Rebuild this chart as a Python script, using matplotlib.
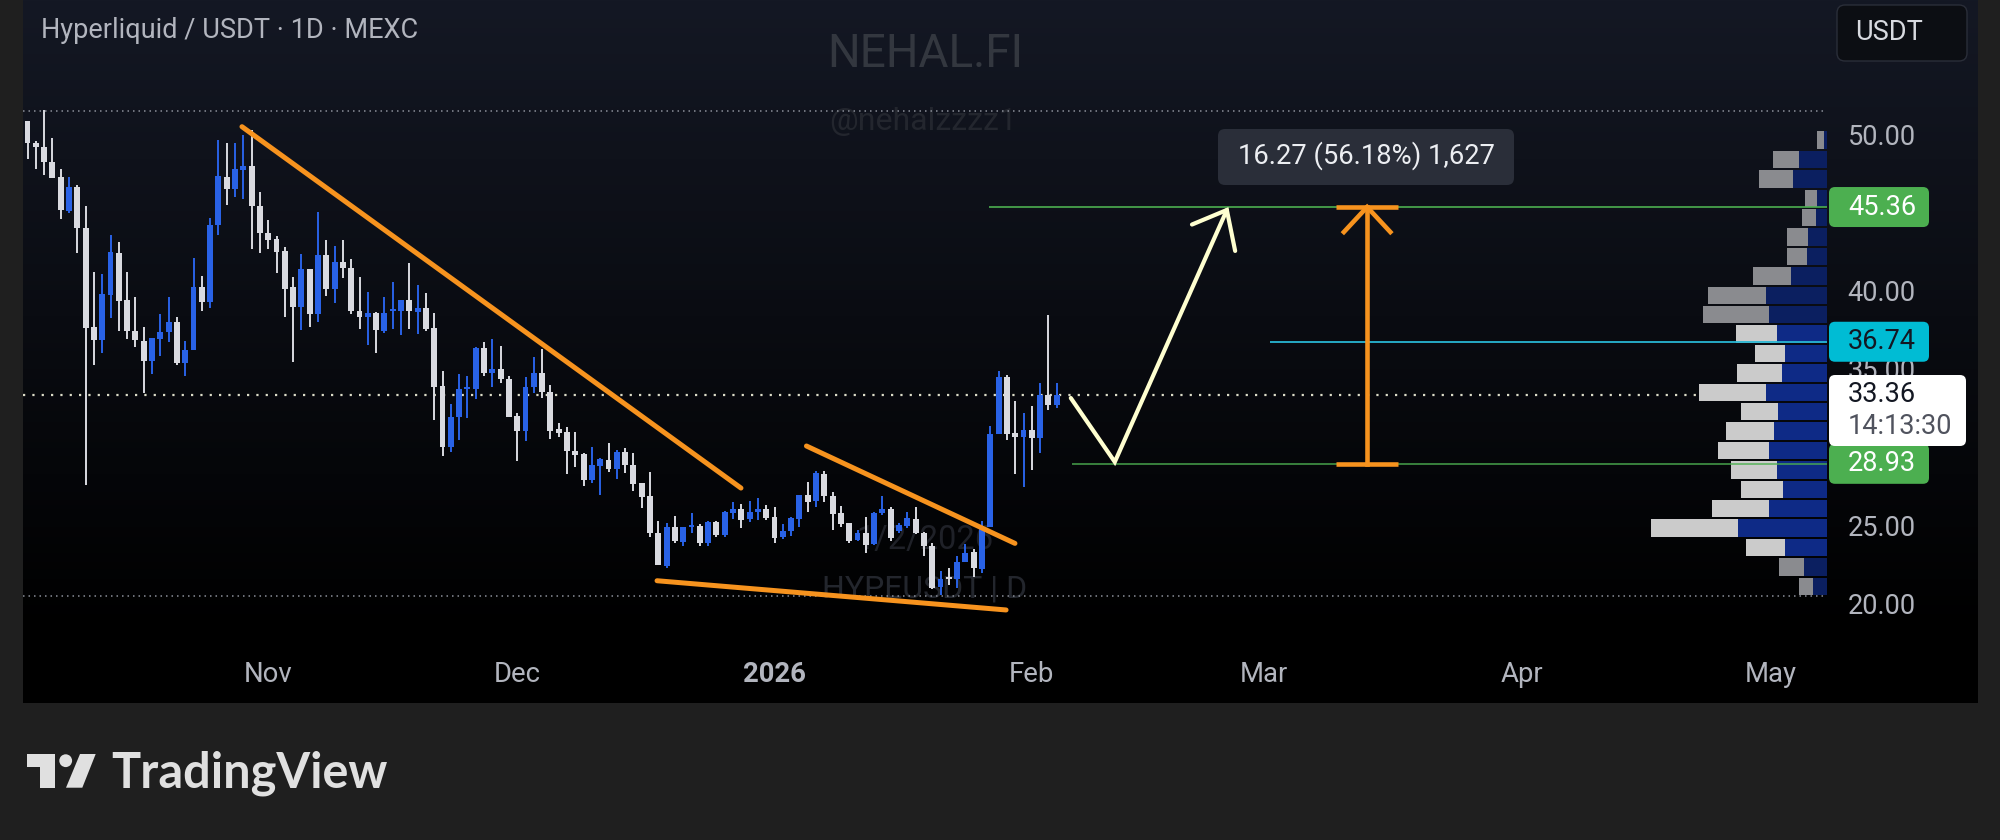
import numpy as np
import matplotlib
matplotlib.use("Agg")
import matplotlib.pyplot as plt
from matplotlib.patches import FancyBboxPatch, Polygon, Circle

plt.rcParams['font.family'] = ['Roboto', 'DejaVu Sans']

# ---------- data ----------
highs = [50.87,49.59,51.57,49.76,47.77,47.31,46.79,45.43,41.18,41.06,43.57,43.15,41.18,39.58,37.67,36.96,38.5,39.58,38.35,36.81,
         42.08,40.95,44.68,49.65,49.48,49.44,49.97,50.29,46.3,44.53,43.51,42.83,40.86,42.34,41.4,45.07,43.27,42.87,43.27,42.04,
         40.91,39.95,38.67,39.63,40.54,39.41,41.78,40.37,39.88,38.6,34.89,32.74,34.7,34.55,36.43,36.73,36.9,36.49,34.55,32.16,
         34.47,35.79,36.26,33.98,31.52,31.3,30.99,29.6,30.03,29.28,30.28,29.81,29.92,29.6,27.72,28.38,25.29,25.12,25.59,24.91,
         25.76,25.08,25.29,25.27,25.93,26.51,26.36,26.55,26.76,26.29,26.19,25.06,25.5,26.91,27.79,28.47,28.47,27.15,26.25,25.16,
         24.69,25.5,25.87,26.89,26.14,25.12,25.83,26.19,24.59,23.88,22.09,22.24,23.05,23.78,23.46,25.29,31.35,34.89,34.61,32.97,
         32.2,32.63,34.12,38.45,34.08]
body_tops = [50.87,49.48,49.22,48.27,47.26,46.62,46.67,44.0,37.71,39.78,42.46,42.44,39.41,37.45,36.79,36.96,37.39,37.99,37.99,36.22,
         40.25,40.27,44.23,47.33,47.31,47.77,47.99,47.99,45.45,43.68,43.3,42.53,40.22,41.4,41.4,42.27,42.27,41.85,41.85,41.48,
         38.73,38.56,38.6,38.6,38.82,39.41,39.41,38.88,38.88,37.62,33.91,31.95,33.74,33.83,36.34,36.32,34.98,34.98,34.36,32.0,
         33.87,34.72,34.72,33.55,31.14,30.99,29.77,29.56,28.85,29.22,29.17,29.71,29.66,28.85,27.72,26.89,24.52,24.91,24.87,24.91,
         25.0,24.97,25.21,25.19,25.85,26.02,26.02,25.85,26.02,26.02,25.5,24.65,25.44,26.91,26.91,28.32,28.28,26.89,25.76,25.12,
         24.48,24.52,25.8,26.02,26.02,25.01,25.44,25.42,24.52,23.67,21.54,21.67,22.67,23.2,23.27,24.91,30.84,34.5,34.46,30.88,
         31.09,31.09,33.33,33.33,33.36]
body_bottoms = [49.44,49.22,48.27,47.22,45.17,45.13,44.0,37.62,36.86,36.86,39.73,39.37,37.41,36.86,35.53,35.53,36.9,37.39,35.36,35.36,
         36.22,39.29,39.29,44.23,46.54,46.54,47.73,45.45,43.68,43.25,42.46,40.14,38.99,38.97,38.52,38.52,40.14,40.14,41.44,38.69,
         38.35,38.35,37.5,37.43,38.69,38.69,38.69,38.67,37.54,33.87,29.99,29.99,31.91,33.72,33.74,34.72,34.72,34.34,31.95,31.01,
         31.01,33.87,33.55,31.01,30.92,29.77,29.49,27.89,27.89,28.81,28.6,28.6,28.85,27.64,26.83,24.48,22.46,22.41,23.99,23.95,
         24.87,23.88,23.88,24.38,24.38,25.76,25.33,25.38,25.85,25.44,24.2,24.23,24.63,25.38,26.51,26.55,26.89,25.7,25.08,24.01,
         24.05,23.74,23.78,25.76,24.16,24.65,24.95,24.48,23.69,20.96,21.03,21.54,21.54,22.67,22.24,22.18,24.91,30.84,30.84,30.62,
         30.67,30.6,30.6,32.69,32.69]
lows = [48.44,47.77,47.43,47.22,44.58,44.96,42.4,27.56,35.23,36.0,38.28,37.45,36.9,36.43,33.44,34.7,35.83,36.75,35.26,34.55,
         36.22,38.71,38.92,43.57,45.47,45.98,45.9,42.7,42.4,42.68,41.16,38.31,35.47,37.5,37.67,38.01,39.69,39.24,40.84,38.5,
         37.58,36.54,36.04,37.32,37.54,37.18,37.56,37.22,37.41,31.74,29.43,29.69,30.46,31.89,33.08,34.57,33.87,34.08,31.95,29.11,
         30.39,33.49,33.12,30.54,30.67,28.26,28.75,27.51,27.68,26.93,28.43,27.96,28.32,27.21,26.12,24.23,22.46,22.24,23.88,23.67,
         24.48,23.67,23.67,24.23,24.23,25.4,24.84,25.23,25.33,25.33,23.84,24.14,24.33,24.91,25.87,26.19,26.51,24.7,24.91,23.84,
         24.01,23.2,23.74,25.65,24.01,24.52,24.8,24.42,23.05,20.9,20.54,21.18,20.96,22.67,21.71,21.92,24.91,30.84,30.45,28.28,
         27.47,28.53,29.6,32.37,32.48]
candle_up = [0,0,0,0,0,1,0,0,0,1,1,0,0,0,0,1,1,1,0,1,
         1,0,1,1,0,1,1,0,0,0,0,0,0,1,0,1,0,1,0,0,
         0,1,0,1,1,1,0,1,0,0,0,1,1,1,1,0,1,0,0,0,
         1,1,0,0,0,0,0,0,1,1,0,1,0,0,0,0,0,1,0,1,
         1,0,1,0,1,1,0,1,1,0,0,1,1,1,0,1,0,0,0,0,
         1,0,1,1,0,1,1,0,0,0,1,0,1,1,0,1,1,1,0,0,
         1,0,1,0,1]

month_ticks = [29, 59, 90, 121, 149, 180, 210]
month_labels = ['Nov', 'Dec', '2026', 'Feb', 'Mar', 'Apr', 'May']
price_ticks = [50, 40, 35, 25, 20]
last_price = 33.36
range_high = 51.5
range_low = 20.47
level_upper = 45.36
level_lower = 28.93
level_mid = 36.74

# volume profile, top row first
profile_down = [20,80,100,34,41,62,59,114,175,196,123,89,137,202,109,144,154,139,126,171,261,115,75,42]
profile_up = [10,84,104,32,34,58,61,109,184,176,151,128,135,183,149,161,174,151,132,174,269,128,69,42]
profile_bright = [0,0,0,0,0,0,0,0,0,0,1,1,1,1,1,1,1,1,1,1,1,1,0,0]

trend_1 = ([25.84, 85.96], [50.5, 27.38])
trend_2 = ([93.85, 118.97], [30.07, 23.84])
trend_3 = ([75.85, 117.9], [21.45, 19.58])
swing_path = ([125.7, 131.0, 144.5], [33.14, 29.05, 45.17])
swing_head = ([140.3, 144.5, 145.5], [44.24, 45.17, 42.55])
measure_x = 161.4
measure_cap = (157.6, 165.1)
measure_head = ([158.6, 161.4, 164.2], [43.76, 45.36, 43.76])
level_starts = {'upper': 115.8, 'lower': 125.9, 'mid': 149.7}

# ---------- layout helpers ----------
W, H = 2000, 840
fig = plt.figure(figsize=(20, 8.4), dpi=100, facecolor='#1f1f1f')

bg = fig.add_axes([0, 0, 1, 1], zorder=-1)
grad = np.linspace(0, 1, 256)[:, None]
top_col = np.array([0x14, 0x18, 0x24]) / 255
cols = top_col[None, None, :] * np.clip(1 - grad / 0.9, 0, 1)[:, :, None]
bg.imshow(cols, extent=(23, 1978, 703, 0), aspect='auto', zorder=0)
bg.set_xlim(0, W); bg.set_ylim(H, 0); bg.axis('off')

AX_T, AX_B, AX_L, AX_R = 0, 640, 23, 1827.3
ax = fig.add_axes([AX_L / W, 1 - AX_B / H, (AX_R - AX_L) / W, (AX_B - AX_T) / H])
ax.patch.set_alpha(0)
ax.set_xlim((AX_L - 27.5) / 8.3, (AX_R - 27.5) / 8.3)
ax.set_ylim(50 - (AX_B - 134.5) / 15.63, 50 + 134.5 / 15.63)
for s in ax.spines.values():
    s.set_visible(False)

ax.yaxis.tick_right()
ax.set_yticks(price_ticks)
ax.set_yticklabels([f'{v:.2f}' for v in price_ticks])
ax.set_xticks(month_ticks)
ax.set_xticklabels(month_labels)
ax.tick_params(axis='y', length=0, pad=14.5, labelsize=19.5, labelcolor='#b2b5be')
ax.tick_params(axis='x', length=0, pad=15, labelsize=19.8, labelcolor='#b2b5be')
ax.get_xticklabels()[2].set_fontweight('bold')

top = fig.add_axes([0, 0, 1, 1], zorder=5)
top.set_xlim(0, W); top.set_ylim(H, 0); top.axis('off'); top.patch.set_alpha(0)

# watermarks
wm = dict(ha='center', va='center', zorder=0.5)
bg.text(925, 54, 'NEHAL.FI', fontsize=33, color='#33373f', **wm)
bg.text(923, 121, '@nehalzzzz1', fontsize=23, color='#23262e', **wm)
bg.text(925, 540, '1/2/2026', fontsize=23.5, color='#1f2128', **wm)
bg.text(925, 589, 'HYPEUSDT | D', fontsize=23, color='#23262d', **wm)
bg.text(41, 31, 'Hyperliquid / USDT · 1D · MEXC', fontsize=19.5, color='#b2b5be', va='center', ha='left', zorder=3)

# dotted range and last price lines
ax.axhline(range_high, color='#8b8f99', lw=1.1, ls=(0, (1, 2.6)), zorder=1)
ax.axhline(range_low, color='#8b8f99', lw=1.1, ls=(0, (1, 2.6)), zorder=1)
ax.axhline(last_price, color='#dcdcc8', lw=1.6, ls=(0, (1, 3.2)), zorder=1)

# volume profile
n_rows = len(profile_up)
row_h = (range_high - range_low) / (n_rows + 1)
right = ax.get_xlim()[1]
unit = 1 / (3 * 8.3)
for i, (d, u, b) in enumerate(zip(profile_down, profile_up, profile_bright)):
    yc = range_high - row_h * (i + 1.5)
    ax.barh(yc, -u * unit, left=right, height=row_h * 0.9,
            color='#0e2a86' if b else '#0b1f60', zorder=2)
    ax.barh(yc, -d * unit, left=right - u * unit, height=row_h * 0.9,
            color='#cbcbcb' if b else '#8a8b8f', zorder=2)

# level lines
ax.hlines(level_upper, level_starts['upper'], right, color='#4caf50', lw=1.2, zorder=3)
ax.hlines(level_lower, level_starts['lower'], right, color='#4caf50', lw=1.2, zorder=3, alpha=0.85)
ax.hlines(level_mid, level_starts['mid'], right, color='#29b6d3', lw=1.3, zorder=3)

# candles
WHITE, BLUE = '#d9dae0', '#2962e6'
xs = np.arange(len(highs))
colors = [BLUE if u else WHITE for u in candle_up]
ax.vlines(xs, lows, highs, colors=colors, lw=1.4, zorder=4)
ax.bar(xs, np.array(body_tops) - np.array(body_bottoms), bottom=body_bottoms, width=0.72,
       color=colors, zorder=4.5)

# drawings
ORANGE = '#f7931e'
for tx, ty in (trend_1, trend_2, trend_3):
    ax.plot(tx, ty, color=ORANGE, lw=3.6, solid_capstyle='round', zorder=6)
CREAM = '#ffffd0'
ax.plot(*swing_path, color=CREAM, lw=3.0, solid_capstyle='round', solid_joinstyle='miter', zorder=6)
ax.plot(*swing_head, color=CREAM, lw=3.0, solid_capstyle='round', solid_joinstyle='miter', zorder=6)
ax.plot([measure_x, measure_x], [level_lower, level_upper], color=ORANGE, lw=3.3, zorder=6)
ax.hlines([level_lower, level_upper], *measure_cap, color=ORANGE, lw=3.3, zorder=6)
ax.plot(*measure_head, color=ORANGE, lw=3.3, solid_joinstyle='miter', zorder=6)

# overlay labels
def ypx(p):
    return H - ax.transData.transform((0, p))[1]

def box(x0, y0, x1, y1, color, r=6, z=2, ec='none'):
    top.add_patch(FancyBboxPatch((x0 + r, y0 + r), x1 - x0 - 2 * r, y1 - y0 - 2 * r,
                                 boxstyle=f'round,pad={r},rounding_size={r}',
                                 fc=color, ec=ec, lw=1, zorder=z))

for p, col, txtcol in ((level_upper, '#4caf50', '#ffffff'), (level_lower, '#4caf50', '#ffffff'),
                       (level_mid, '#00bcd4', '#131722')):
    yc = ypx(p)
    box(1829, yc - 20, 1929, yc + 20, col)
    top.text(1848, yc, f'{p:.2f}', fontsize=19.5, color=txtcol, va='center', ha='left', zorder=3)

box(1829, 375, 1966, 446, '#ffffff', z=4)
top.text(1848, 395, f'{last_price:.2f}', fontsize=19.5, color='#131722', va='center', ha='left', zorder=5)
top.text(1848, 426.5, '14:13:30', fontsize=19.5, color='#50535e', va='center', ha='left', zorder=5)

box(1218, 129, 1514, 185, '#2a2e39', r=7)
top.text(1366, 156, '16.27 (56.18%) 1,627', fontsize=19.7, color='#eceef2', va='center', ha='center', zorder=3)

box(1837, 5, 1967, 61, '#0c0e13', r=8, ec='#2a2e39')
top.text(1889, 32, 'USDT', fontsize=19.5, color='#d8dae0', va='center', ha='center', zorder=3)

# TradingView mark
LOGO = '#e0e0e0'
top.add_patch(Polygon([(27.3, 754), (55, 754), (55, 787.7), (40, 787.7), (40, 766.7), (27.3, 766.7)], fc=LOGO, ec='none'))
top.add_patch(Circle((65.7, 760.7), 6.4, fc=LOGO, ec='none'))
top.add_patch(Polygon([(80, 754), (95.7, 754), (82.3, 787.7), (66, 787.7)], fc=LOGO, ec='none'))
top.text(111, 787.5, 'TradingView', fontsize=35, fontfamily=['Lato', 'DejaVu Sans'], fontweight='bold',
         color=LOGO, va='baseline', ha='left')

fig.savefig('out.png', dpi=100, facecolor=fig.get_facecolor())
